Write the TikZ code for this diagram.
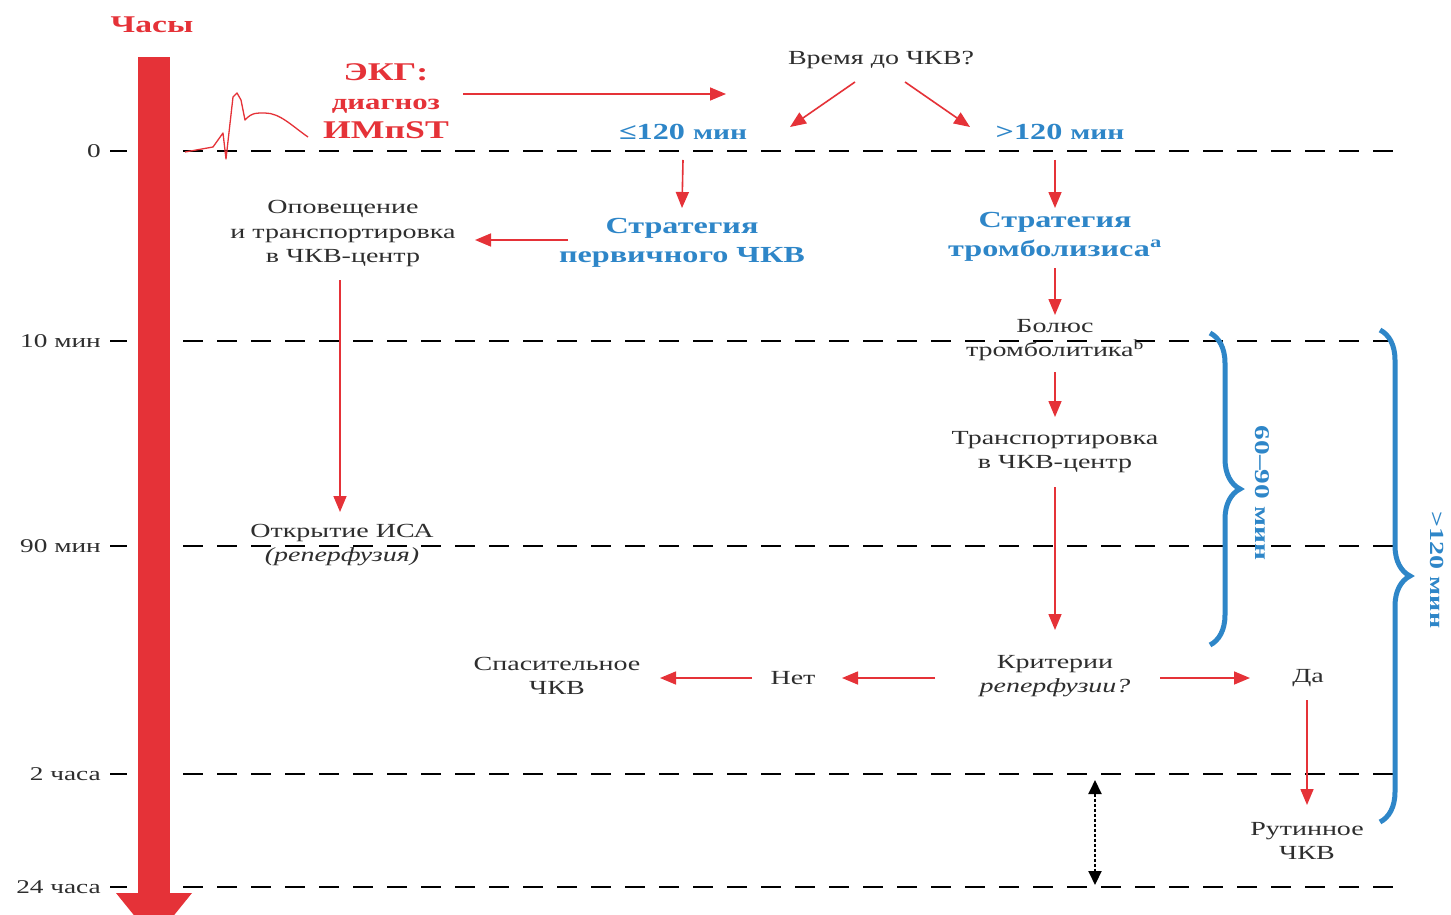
\documentclass[tikz,border=0pt]{standalone}
\usepackage{fontspec}
\setmainfont{Liberation Serif}[FakeStretch=1.4]
\usetikzlibrary{arrows.meta,decorations.pathreplacing,calc}
\definecolor{myred}{HTML}{E53238}
\definecolor{myblue}{HTML}{2E86C8}
\definecolor{txtc}{HTML}{2E2E2E}
\newcommand{\myfs}[2]{\fontsize{#1}{#2}\selectfont}
\begin{document}
\begin{tikzpicture}[x=1pt,y=-1pt,
  txt/.style={text=txtc, font=\myfs{20}{24.5}, align=center, inner sep=0pt},
  hd/.style={text=myblue, font=\bfseries\myfs{23}{29}, align=center, inner sep=0pt},
  tick/.style={text=txtc, font=\myfs{19.5}{22}, anchor=east, inner sep=0pt},
  arr/.style={myred, line width=1.6pt, -{Triangle[length=16pt,width=13pt]}},
  dl/.style={black, line width=1.8pt, dash pattern=on 20pt off 14pt},
  brc/.style={myblue, line width=5pt, decorate, decoration={brace, amplitude=30pt}},
]
\useasboundingbox (0,0) rectangle (1451,915);
\fill[white] (0,0) rectangle (1451,915);

% time bar
\node[text=myred, font=\bfseries\myfs{24}{26}, inner sep=0pt] (chasy) at (152,25) {Часы};
\fill[myred] (138,57) rectangle (170,895);
\fill[myred] (116,893) -- (192,893) -- (154,940) -- cycle;

% dashed guide lines and ticks
\foreach \yy/\lab/\nm in {151/0/t0, 341/10 мин/t10, 546/90 мин/t90, 774/2 часа/t2, 887/24 часа/t24}{
  \node[tick] (\nm) at (101,\yy) {\lab};
  \draw[black, line width=1.8pt] (110,\yy) -- (127,\yy);
  \draw[dl] (183,\yy) -- (1405,\yy);
}

% ECG
\draw[myred, line width=1.3pt, line join=round]
  (185,152) -- (213,147) -- (223,133) -- (226,159) -- (233,97) -- (237,93) -- (241,100) -- (245,120)
  .. controls (252,112) and (258,113) .. (265,113) .. controls (280,113) and (292,126) .. (308,137);

\node[text=myred, font=\bfseries\myfs{25.5}{29}, align=center, inner sep=0pt] (ekg) at (386,101)
  {ЭКГ:\\{\myfs{22}{29}диагноз}\\ИМпST};

\node[txt] (vremya) at (881,60) {Время до ЧКВ?};
\node[hd] (le120) at (683,132) {≤120 {\myfs{21}{29}мин}};
\node[hd] (gt120) at (1060,132) {>120 {\myfs{21}{29}мин}};
\node[hd] (strat1) at (682,243) {Стратегия\\первичного ЧКВ};
\node[hd] (strat2) at (1055,237) {Стратегия\\тромболизиса\textsuperscript{a}};
\node[txt] (opov) at (343,234) {Оповещение\\и транспортировка\\в ЧКВ-центр};
\node[txt] (otkr) at (342,545) {Открытие ИСА\\\textit{(реперфузия)}};
\node[txt] (bolus) at (1055,340) {Болюс\\тромболитика\textsuperscript{b}};
\node[txt] (transp) at (1055,452) {Транспортировка\\в ЧКВ-центр};
\node[txt] (krit) at (1055,676) {Критерии\\\textit{реперфузии?}};
\node[txt] (net) at (793,678) {Нет};
\node[txt] (spas) at (557,676) {Спасительное\\ЧКВ};
\node[txt] (da) at (1308,678) {Да};
\node[txt] (rut) at (1307,841) {Рутинное\\ЧКВ};

% arrows
\draw[arr] ($(ekg)+(77,-7)$) -- ($(vremya)+(-155,34)$);
\draw[arr] ($(vremya)+(-26,22)$) -- ($(le120)+(107,-5)$);
\draw[arr] ($(vremya)+(24,22)$) -- ($(gt120)+(-90,-5)$);
\draw[arr] ($(le120)+(0,28)$) -- ($(strat1)+(0,-35)$);
\draw[arr] ($(gt120)+(-5,28)$) -- ($(strat2)+(0,-29)$);
\draw[arr] ($(strat1)+(-114,-3)$) -- ($(opov)+(132,6)$);
\draw[arr] ($(opov)+(-3,46)$) -- ($(otkr)+(-2,-33)$);
\draw[arr] ($(strat2)+(0,31)$) -- ($(bolus)+(0,-25)$);
\draw[arr] ($(bolus)+(0,32)$) -- ($(transp)+(0,-35)$);
\draw[arr] ($(transp)+(0,35)$) -- ($(krit)+(0,-46)$);
\draw[arr] ($(krit)+(-120,2)$) -- ($(net)+(49,0)$);
\draw[arr] ($(net)+(-41,0)$) -- ($(spas)+(103,2)$);
\draw[arr] ($(krit)+(105,2)$) -- ($(da)+(-58,0)$);
\draw[arr] ($(da)+(-1,22)$) -- ($(rut)+(0,-36)$);

% dotted double arrow
\coordinate (d1) at (1095,780);
\coordinate (d2) at (1095,885);
\draw[black, line width=2pt, dash pattern=on 3pt off 2pt, {Triangle[length=14pt,width=13pt]}-{Triangle[length=14pt,width=13pt]}] (d1) -- (d2);

% braces
\coordinate (b1a) at (1210,333);
\coordinate (b1b) at (1210,645);
\draw[brc] (b1a) -- (b1b);
\node[text=myblue, font=\bfseries\myfs{21}{24}, rotate=-90, inner sep=0pt] (lab1) at (1262,493) {60–90 мин};
\coordinate (b2a) at (1380,330);
\coordinate (b2b) at (1380,822);
\draw[brc] (b2a) -- (b2b);
\node[text=myblue, font=\bfseries\myfs{20}{24}, rotate=-90, inner sep=0pt] (lab2) at (1437,570) {>120 мин};
\end{tikzpicture}
\end{document}
